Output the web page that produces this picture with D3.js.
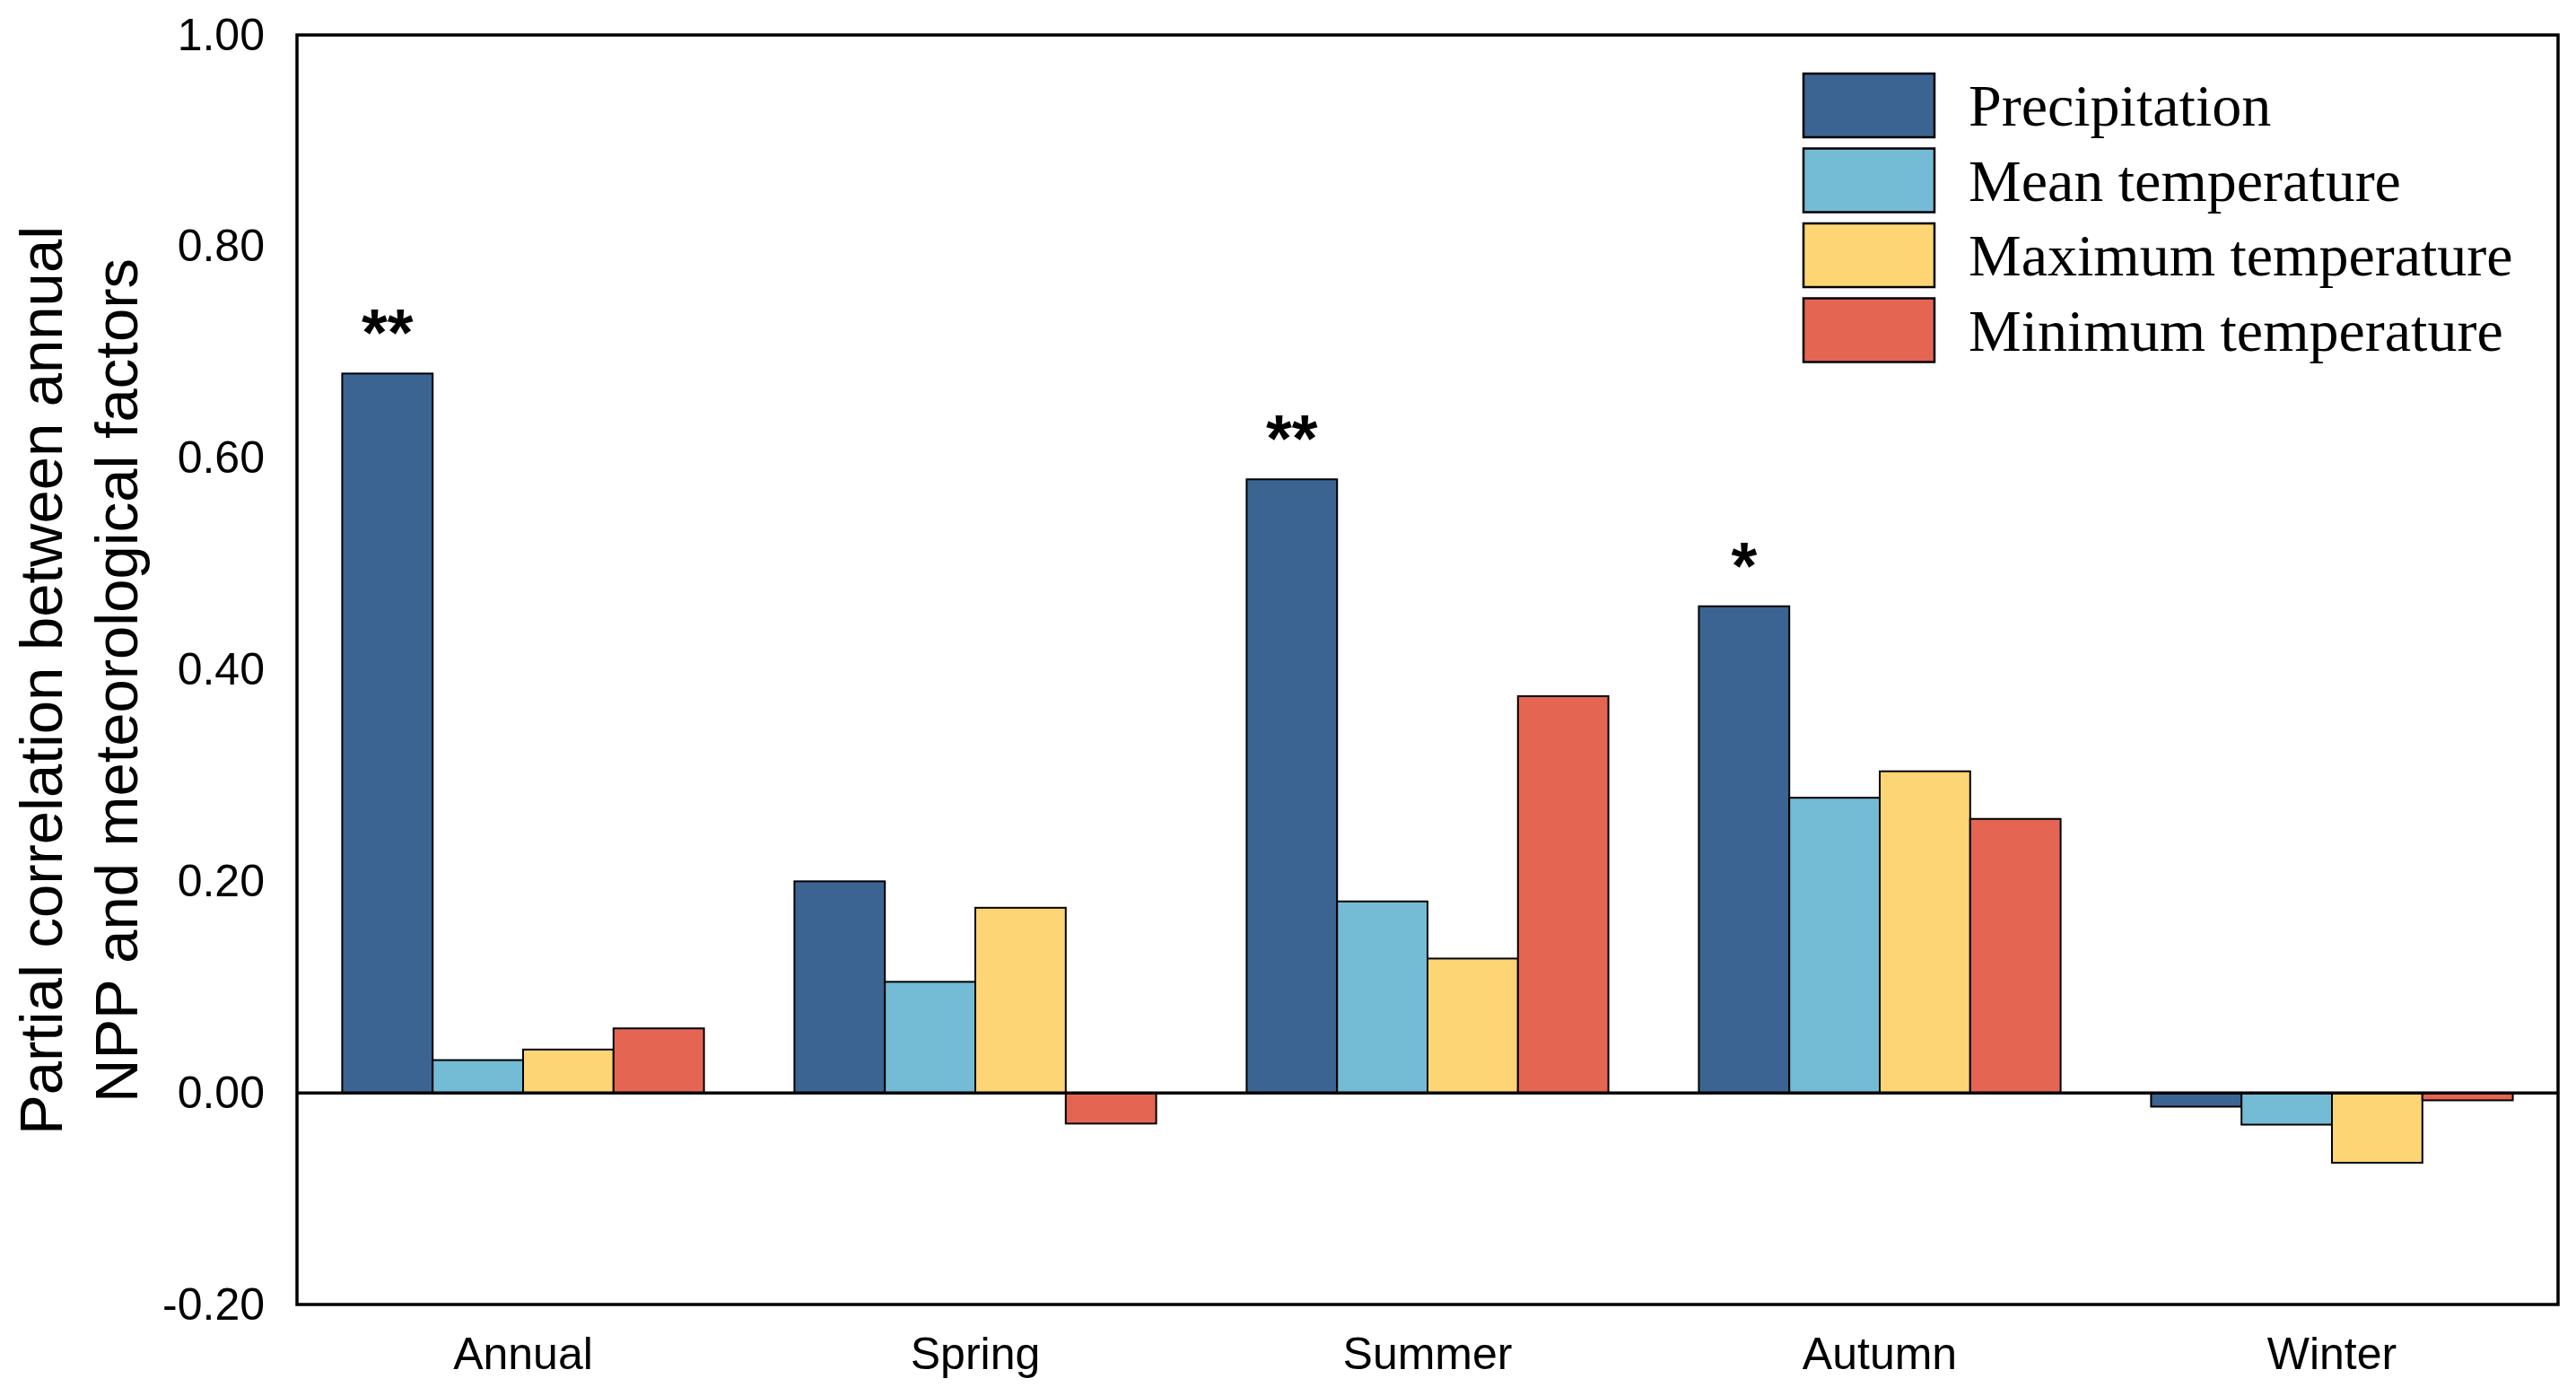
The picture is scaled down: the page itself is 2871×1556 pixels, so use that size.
<!DOCTYPE html>
<html>
<head>
<meta charset="utf-8">
<script src="https://cdn.jsdelivr.net/npm/d3@7.9.0/dist/d3.min.js"></script>
<style>
  body { margin: 0; background: #fff; }
  svg { display: block; }
</style>
</head>
<body>
<script>
// Chart data
const seasons = ["Annual", "Spring", "Summer", "Autumn", "Winter"];
const factors = ["Precipitation", "Mean temperature", "Maximum temperature", "Minimum temperature"];
const precipitation = [0.68, 0.20, 0.58, 0.46, -0.013];
const meanTemperature = [0.031, 0.105, 0.181, 0.279, -0.030];
const maxTemperature = [0.041, 0.175, 0.127, 0.304, -0.066];
const minTemperature = [0.061, -0.029, 0.375, 0.259, -0.007];
const significance = ["**", "", "**", "*", ""];
const yTicks = [-0.20, 0.00, 0.20, 0.40, 0.60, 0.80, 1.00];
const colors = ["#3B6493", "#74BBD6", "#FED574", "#E56553"];

const seriesValues = [precipitation, meanTemperature, maxTemperature, minTemperature];

const width = 2871, height = 1556;
const margin = { top: 39, right: 20, bottom: 102, left: 331 };

const svg = d3.select("body").append("svg")
    .attr("width", width)
    .attr("height", height);

const xScale = d3.scaleBand()
    .domain(seasons)
    .range([margin.left, width - margin.right])
    .paddingInner(0.2)
    .paddingOuter(0.1);

const xInner = d3.scaleBand()
    .domain(factors)
    .range([0, xScale.bandwidth()]);

const yScale = d3.scaleLinear()
    .domain([-0.2, 1.0])
    .range([height - margin.bottom, margin.top]);

// Bars
seasons.forEach((season, i) => {
    const g = svg.append("g").attr("transform", `translate(${xScale(season)},0)`);
    factors.forEach((f, j) => {
        const v = seriesValues[j][i];
        g.append("rect")
            .attr("x", xInner(f))
            .attr("y", yScale(Math.max(0, v)))
            .attr("width", xInner.bandwidth())
            .attr("height", Math.abs(yScale(v) - yScale(0)))
            .attr("fill", colors[j])
            .attr("stroke", "#000")
            .attr("stroke-width", 2);
    });
    if (significance[i]) {
        g.append("text")
            .attr("x", xInner(factors[0]) + xInner.bandwidth() / 2)
            .attr("y", yScale(precipitation[i]) - 20)
            .attr("text-anchor", "middle")
            .style("font-family", "Liberation Sans, Arial, sans-serif")
            .style("font-size", "74px")
            .style("font-weight", "bold")
            .text(significance[i]);
    }
});

// Zero line
svg.append("line")
    .attr("x1", margin.left)
    .attr("x2", width - margin.right)
    .attr("y1", yScale(0))
    .attr("y2", yScale(0))
    .attr("stroke", "#000")
    .attr("stroke-width", 3.5);

// Frame
svg.append("rect")
    .attr("x", margin.left)
    .attr("y", margin.top)
    .attr("width", width - margin.right - margin.left)
    .attr("height", height - margin.bottom - margin.top)
    .attr("fill", "none")
    .attr("stroke", "#000")
    .attr("stroke-width", 3.5);

// Y axis (plain hyphen for negatives)
const yAxis = svg.append("g")
    .attr("transform", `translate(${margin.left},0)`)
    .call(d3.axisLeft(yScale).tickValues(yTicks).tickSize(0).tickPadding(36)
        .tickFormat(d => d.toFixed(2)));
yAxis.select(".domain").remove();
yAxis.selectAll("text")
    .style("font-family", "Liberation Sans, Arial, sans-serif")
    .style("font-size", "50px")
    .attr("fill", "#000");

// X axis
const xAxis = svg.append("g")
    .attr("transform", `translate(0,${height - margin.bottom})`)
    .call(d3.axisBottom(xScale).tickSize(0).tickPadding(36));
xAxis.select(".domain").remove();
xAxis.selectAll("text")
    .style("font-family", "Liberation Sans, Arial, sans-serif")
    .style("font-size", "50px")
    .attr("fill", "#000");

// Y axis title
const titleY = (margin.top + height - margin.bottom) / 2 + 12;
const title = svg.append("text")
    .attr("transform", `translate(69,${titleY}) rotate(-90)`)
    .attr("text-anchor", "middle")
    .style("font-family", "Liberation Sans, Arial, sans-serif")
    .style("font-size", "67px")
    .attr("fill", "#000");
title.append("tspan").attr("x", 0).attr("y", 0).text("Partial correlation between annual");
title.append("tspan").attr("x", 0).attr("y", 84).text("NPP and meteorological factors");

// Legend
const legend = svg.append("g").attr("transform", "translate(2010,82)");
factors.forEach((f, j) => {
    const row = legend.append("g").attr("transform", `translate(0,${j * 83.5})`);
    row.append("rect")
        .attr("width", 146)
        .attr("height", 71)
        .attr("fill", colors[j])
        .attr("stroke", "#000")
        .attr("stroke-width", 2.5);
    row.append("text")
        .attr("x", 184)
        .attr("y", 58)
        .style("font-family", "Liberation Serif, Times New Roman, serif")
        .style("font-size", "66px")
        .attr("fill", "#000")
        .text(f);
});
</script>
</body>
</html>
